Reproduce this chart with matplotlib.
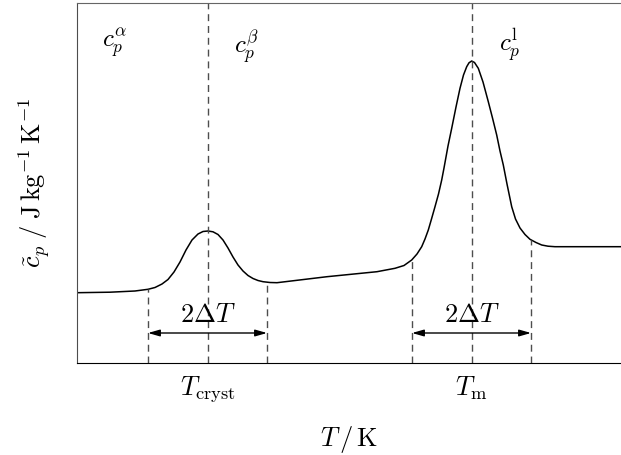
import numpy as np
import matplotlib
matplotlib.use("Agg")
import matplotlib.pyplot as plt

plt.rcParams['mathtext.fontset'] = 'cm'
plt.rcParams['font.family'] = 'serif'
plt.rcParams['font.serif'] = ['DejaVu Serif']

# schematic apparent heat capacity curve (arbitrary units)
T = [0, 33, 58, 71, 78, 85, 91, 97, 103, 109, 115, 121, 126, 131, 136, 141,
     146, 151, 156, 161, 166, 171, 176, 181, 186, 193, 200, 250, 300, 318,
     327, 334.7, 340, 344.7, 348, 351.3, 354.5, 358, 361.5, 364.7, 367, 371,
     374.7, 379, 383, 386.5, 389.7, 392, 394.7, 397.5, 401.3, 406, 411.3,
     415.5, 419.7, 423, 426.3, 430, 434.7, 438.5, 443, 448, 453, 459, 464.7,
     471, 478, 544]
cp = [70.3, 70.8, 72, 73.7, 75.5, 79, 83.5, 91, 101, 113, 123, 129, 131.5,
      132, 131.2, 128.5, 123, 115, 106, 98, 92, 87.5, 84.5, 82.5, 81.3, 80.5,
      80.3, 86.3, 91.3, 94.7, 97.5, 103, 109, 116.3, 124, 133, 144, 156.3,
      169, 183, 195, 217, 234.7, 256, 274.7, 288, 296.3, 300.2, 302, 300.5,
      294.7, 281, 261.3, 245, 228, 212, 198, 179, 156.3, 144, 135, 128.5,
      123.7, 120.5, 118, 116.8, 116.3, 116.3]

T_cryst = 130.5
T_m = 394.5
dT = 59.5
peak_names = [r'$T_{\mathrm{cryst}}$', r'$T_{\mathrm{m}}$']
phase_labels = [r'$c_p^{\alpha}$', r'$c_p^{\beta}$', r'$c_p^{\mathrm{l}}$']
phase_T = [38, 169, 433]
phase_cp = [320, 315, 318]

fig = plt.figure(figsize=(6.21, 4.55), dpi=100)
ax = fig.add_axes([77 / 621, 92 / 455, 544 / 621, 360 / 455])
ax.set_xlim(0, 544)
ax.set_ylim(0, 360)

ax.plot(T, cp, color='black', lw=1.1)

dash = dict(color='0.3', lw=1.0, linestyle=(0, (5, 3.5)))
for Tc in [T_cryst, T_m]:
    ax.plot([Tc, Tc], [0, 360], **dash)
    for side in [Tc - dT, Tc + dT]:
        ax.plot([side, side], [0, np.interp(side, T, cp)], **dash)
    ax.annotate('', xy=(Tc - dT, 30), xytext=(Tc + dT, 30),
                arrowprops=dict(arrowstyle='<|-|>,head_length=0.7,head_width=0.2',
                                color='black', lw=1.0, shrinkA=0, shrinkB=0))
    ax.text(Tc, 36, r'$2\Delta T$', ha='center', va='bottom', fontsize=19)

for lab, x, y in zip(phase_labels, phase_T, phase_cp):
    ax.text(x, y, lab, ha='center', va='center', fontsize=18)

ax.set_xticks([T_cryst, T_m])
ax.set_xticklabels(peak_names, fontsize=19)
ax.set_yticks([])
ax.tick_params(axis='x', length=0, pad=8)
ax.set_xlabel(r'$T\,/\,\mathrm{K}$', fontsize=19, labelpad=14)
ax.set_ylabel(r'$\tilde{c}_p\;/\;\mathrm{J\,kg^{-1}\,K^{-1}}$', fontsize=19, labelpad=18)

ax.spines['right'].set_visible(False)
ax.spines['top'].set_color('0.4')
ax.spines['left'].set_color('0.3')
ax.spines['bottom'].set_color('black')

fig.savefig('out.png', dpi=100)
